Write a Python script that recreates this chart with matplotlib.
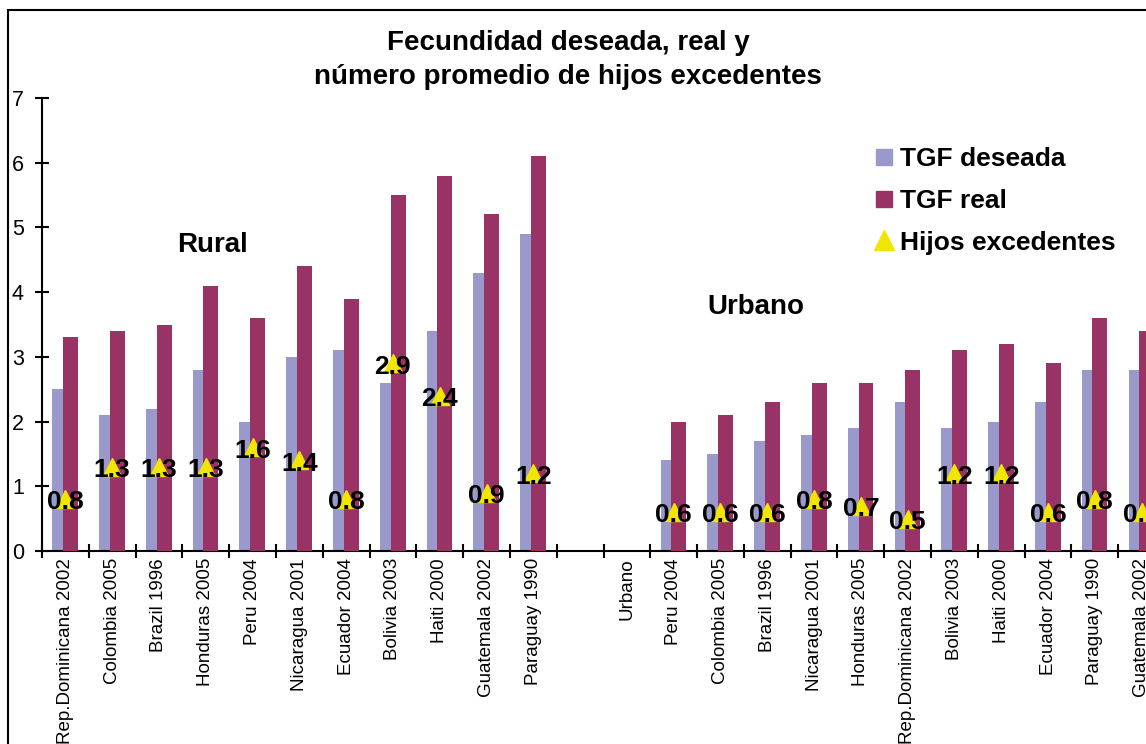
import matplotlib.pyplot as plt
import numpy as np
from matplotlib.lines import Line2D
from matplotlib.patches import Rectangle

plt.rcParams['font.family'] = ['Liberation Sans', 'DejaVu Sans']

# Datos
paises_rural = ['Rep.Dominicana 2002', 'Colombia 2005', 'Brazil 1996', 'Honduras 2005',
                'Peru 2004', 'Nicaragua 2001', 'Ecuador 2004', 'Bolivia 2003',
                'Haiti 2000', 'Guatemala 2002', 'Paraguay 1990']
deseada_rural = [2.5, 2.1, 2.2, 2.8, 2.0, 3.0, 3.1, 2.6, 3.4, 4.3, 4.9]
real_rural = [3.3, 3.4, 3.5, 4.1, 3.6, 4.4, 3.9, 5.5, 5.8, 5.2, 6.1]
exced_rural = [0.8, 1.3, 1.3, 1.3, 1.6, 1.4, 0.8, 2.9, 2.4, 0.9, 1.2]

paises_urbano = ['Peru 2004', 'Colombia 2005', 'Brazil 1996', 'Nicaragua 2001',
                 'Honduras 2005', 'Rep.Dominicana 2002', 'Bolivia 2003', 'Haiti 2000',
                 'Ecuador 2004', 'Paraguay 1990', 'Guatemala 2002']
deseada_urbano = [1.4, 1.5, 1.7, 1.8, 1.9, 2.3, 1.9, 2.0, 2.3, 2.8, 2.8]
real_urbano = [2.0, 2.1, 2.3, 2.6, 2.6, 2.8, 3.1, 3.2, 2.9, 3.6, 3.4]
exced_urbano = [0.6, 0.6, 0.6, 0.8, 0.7, 0.5, 1.2, 1.2, 0.6, 0.8, 0.6]

etiquetas = paises_rural + ['', 'Urbano'] + paises_urbano

c_deseada = '#9999cc'
c_real = '#993366'
c_exced = '#f2e600'

fig = plt.figure(figsize=(11.46, 7.44), dpi=100)
ax = fig.add_axes([42 / 1146, 1 - 551 / 744, 1123 / 1146, 453 / 744])

n_r = len(paises_rural)
x_r = np.arange(n_r)
x_u = np.arange(len(paises_urbano)) + n_r + 2
xs = np.concatenate([x_r, x_u])
deseada = deseada_rural + deseada_urbano
real = real_rural + real_urbano
exced = exced_rural + exced_urbano

w = 0.32
ax.bar(xs - 0.12, deseada, w, color=c_deseada, zorder=2)
ax.bar(xs + 0.11, real, w, color=c_real, zorder=3)

# triangulos debajo de las etiquetas
ax.plot(xs, exced, linestyle='none', marker='^', markersize=13,
        color=c_exced, zorder=4)
for x, v in zip(xs, exced):
    ax.text(x, v - 0.05, f'{v:.1f}', ha='center', va='center', fontsize=19,
            fontweight='bold', color='black', zorder=5)

ax.set_xlim(-0.5, len(etiquetas) - 0.5)
ax.set_ylim(0, 7)
ax.set_yticks(range(8))
ax.tick_params(axis='y', labelsize=15.5, direction='inout', length=10, width=1.5, pad=8)

ax.set_xticks(np.arange(len(etiquetas)))
ax.set_xticklabels(etiquetas, rotation=90, fontsize=13.5, va='top', ha='center')
ax.set_xticks(np.arange(len(etiquetas) + 1) - 0.5, minor=True)
ax.tick_params(axis='x', which='major', length=0, pad=5)
ax.tick_params(axis='x', which='minor', direction='inout', length=10, width=1.5)

for s in ['top', 'right']:
    ax.spines[s].set_visible(False)
for s in ['left', 'bottom']:
    ax.spines[s].set_linewidth(1.5)

ax.text(3.15, 4.73, 'Rural', ha='center', va='center', fontsize=20, fontweight='bold')
ax.text(14.76, 3.77, 'Urbano', ha='center', va='center', fontsize=20, fontweight='bold')

fig.text(568 / 1146, 1 - 60 / 744, 'Fecundidad deseada, real y\nnúmero promedio de hijos excedentes',
         ha='center', va='center', fontsize=20, fontweight='bold', linespacing=1.35)

handles = [
    Line2D([], [], linestyle='none', marker='s', markersize=11, color=c_deseada),
    Line2D([], [], linestyle='none', marker='s', markersize=11, color=c_real),
    Line2D([], [], linestyle='none', marker='^', markersize=14, color=c_exced),
]
leg = ax.legend(handles, ['TGF deseada', 'TGF real', 'Hijos excedentes'],
                loc='upper left', bbox_to_anchor=(858 / 1146, 1 - 134 / 744),
                bbox_transform=fig.transFigure, frameon=False, borderpad=0,
                handlelength=1.0, handletextpad=0.1, labelspacing=0.67,
                prop={'size': 19, 'weight': 'bold'})

fig.patches.append(Rectangle((8 / 1146, -0.1), 1.2, 1 - 10 / 744 + 0.1,
                             transform=fig.transFigure, fill=False,
                             edgecolor='black', linewidth=1.5))

fig.savefig('out.png', dpi=100)
